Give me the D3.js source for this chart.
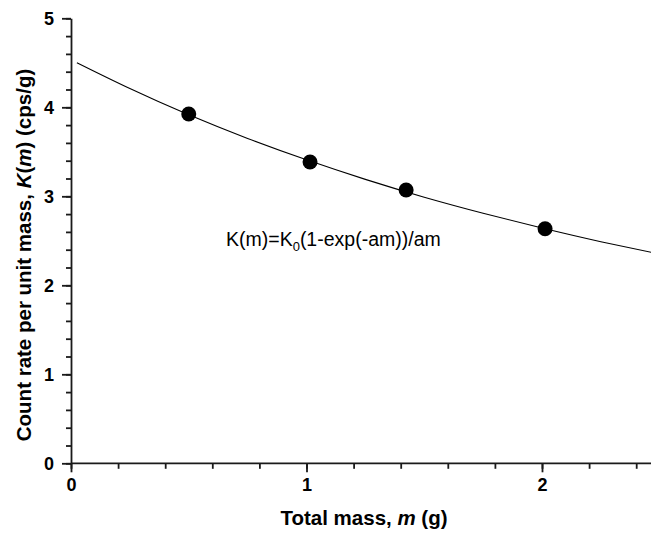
<!DOCTYPE html>
<html lang="en">
<head>
<meta charset="UTF-8">
<title>Count rate per unit mass</title>
<style>
  body { margin: 0; background: #fff; }
  svg text { font-family: "Liberation Sans", Arial, sans-serif; }
</style>
</head>
<body>
<div id="graph"></div>
<script src="https://cdn.jsdelivr.net/npm/d3@7"></script>
<script>
    // measured points
    var mass = [0.5, 1.015, 1.423, 2.013];
    var rate = [3.925, 3.385, 3.07, 2.636];

    // fitted curve
    var curveMass = [0.025, 0.25, 0.5, 0.75, 1.0, 1.25, 1.5, 1.75, 2.0, 2.25, 2.5];
    var curveRate = [4.50, 4.21, 3.915, 3.65, 3.41, 3.19, 2.99, 2.81, 2.644, 2.49, 2.35];

    var xMajor = [0, 1, 2];
    var yMajor = [0, 1, 2, 3, 4, 5];

    var width = 651, height = 535;
    var padLeft = 71, padBottom = 463.3, padTop = 18.3;

    var svg = d3.select("#graph").append("svg")
        .attr("width", width).attr("height", height);

    var x = d3.scaleLinear().domain([0, 2.5]).range([padLeft, padLeft + 2.5 * 235.5]);
    var y = d3.scaleLinear().domain([0, 5]).range([padBottom, padTop]);

    var axisColor = "#1a1a1a";

    // x axis: minor ticks, then major with labels
    svg.append("g")
        .attr("transform", "translate(0," + padBottom + ")")
        .call(d3.axisBottom(x).tickValues(d3.range(0, 2.41, 0.2)).tickSize(5.5).tickSizeOuter(0).tickFormat(""))
        .call(function(g) { g.select(".domain").remove(); });
    svg.append("g")
        .attr("transform", "translate(0," + padBottom + ")")
        .call(d3.axisBottom(x).tickValues(xMajor).tickSize(9).tickSizeOuter(0).tickPadding(6).tickFormat(d3.format("d")))
        .call(function(g) {
            g.select(".domain").attr("d", "M" + padLeft + ",0H" + width);
        });

    // y axis
    svg.append("g")
        .attr("transform", "translate(" + padLeft + ",0)")
        .call(d3.axisLeft(y).tickValues(d3.range(0, 5.01, 0.2)).tickSize(5).tickSizeOuter(0).tickFormat(""))
        .call(function(g) { g.select(".domain").remove(); });
    svg.append("g")
        .attr("transform", "translate(" + padLeft + ",0)")
        .call(d3.axisLeft(y).tickValues(yMajor).tickSize(9).tickSizeOuter(0).tickPadding(8).tickFormat(d3.format("d")));

    svg.selectAll(".domain, .tick line")
        .attr("stroke", axisColor).attr("stroke-width", 1.8);
    svg.selectAll(".tick text")
        .attr("font-size", 18).attr("font-weight", "bold").attr("fill", "#000")
        .style("font-family", "'Liberation Sans', Arial, sans-serif");

    // fit curve
    var line = d3.line()
        .x(function(d) { return x(d[0]); })
        .y(function(d) { return y(d[1]); })
        .curve(d3.curveNatural);
    svg.append("path")
        .datum(d3.zip(curveMass, curveRate))
        .attr("d", line)
        .attr("fill", "none")
        .attr("stroke", "#000")
        .attr("stroke-width", 1.1);

    // data points
    svg.append("g")
        .selectAll("circle")
        .data(d3.zip(mass, rate))
        .enter()
        .append("circle")
        .attr("cx", function(d) { return x(d[0]); })
        .attr("cy", function(d) { return y(d[1]); })
        .attr("r", 7.5)
        .attr("fill", "#000");

    // formula label
    var f = svg.append("text")
        .attr("x", 226).attr("y", 246)
        .attr("font-size", 19.5);
    f.append("tspan").text("K(m)=K");
    f.append("tspan").attr("font-size", 13).attr("dy", 5).text("0");
    f.append("tspan").attr("dy", -5).text("(1-exp(-am))/am");

    // x title
    var xt = svg.append("text")
        .attr("x", 364).attr("y", 525)
        .attr("text-anchor", "middle")
        .attr("font-size", 20.5).attr("font-weight", "bold");
    xt.append("tspan").text("Total mass, ");
    xt.append("tspan").attr("font-style", "italic").text("m");
    xt.append("tspan").text(" (g)");

    // y title
    var yt = svg.append("text")
        .attr("transform", "translate(31,255) rotate(-90)")
        .attr("text-anchor", "middle")
        .attr("font-size", 20.5).attr("font-weight", "bold");
    yt.append("tspan").text("Count rate per unit mass, ");
    yt.append("tspan").attr("font-style", "italic").text("K");
    yt.append("tspan").text("(");
    yt.append("tspan").attr("font-style", "italic").text("m");
    yt.append("tspan").text(") (cps/g)");
</script>
</body>
</html>
